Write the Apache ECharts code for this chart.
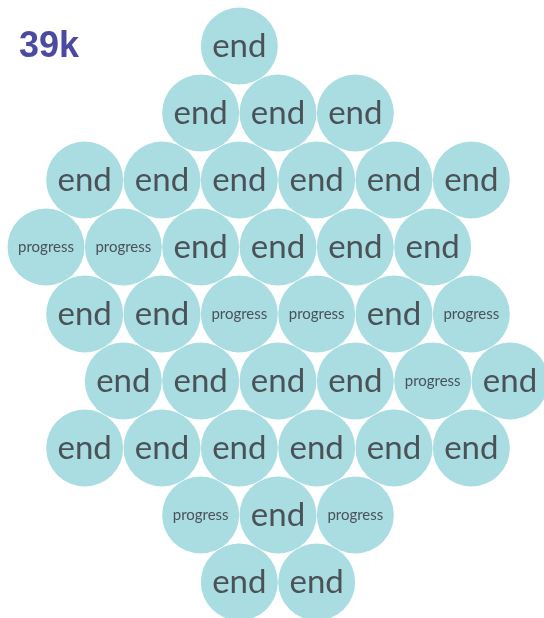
<!DOCTYPE html>
<html>
<head>
<meta charset="utf-8">
<style>
  html, body { margin: 0; padding: 0; background: #fff; }
  #main { width: 544px; height: 618px; }
</style>
<script src="https://cdn.jsdelivr.net/npm/echarts@6/dist/echarts.min.js"></script>
</head>
<body>
<div id="main"></div>
<script>
// hex grid: column index (half steps) and row index for each cell
var cols = [5, 4, 6, 8, 1, 3, 5, 7, 9, 11, 0, 2, 4, 6, 8, 10, 1, 3, 5, 7, 9, 11,
  2, 4, 6, 8, 10, 12, 1, 3, 5, 7, 9, 11, 4, 6, 8, 5, 7]
var rows = [0, 1, 1, 1, 2, 2, 2, 2, 2, 2, 3, 3, 3, 3, 3, 3, 4, 4, 4, 4, 4, 4,
  5, 5, 5, 5, 5, 5, 6, 6, 6, 6, 6, 6, 7, 7, 7, 8, 8]
var states = ['end', 'end', 'end', 'end', 'end', 'end', 'end', 'end', 'end', 'end',
  'progress', 'progress', 'end', 'end', 'end', 'end',
  'end', 'end', 'progress', 'progress', 'end', 'progress',
  'end', 'end', 'end', 'end', 'progress', 'end',
  'end', 'end', 'end', 'end', 'end', 'end',
  'progress', 'end', 'progress', 'end', 'end']
var total = '39k'

var data = []
for (var i = 0; i < cols.length; i++) {
  data.push({
    value: [cols[i], rows[i]],
    name: states[i],
    label: {
      fontSize: states[i] === 'end' ? 33 : 15
    }
  })
}

var chart = echarts.init(document.getElementById('main'))
chart.setOption({
  title: {
    text: total,
    left: 19,
    top: 29,
    padding: 0,
    textStyle: {
      color: '#4a4aa2',
      fontSize: 36,
      fontWeight: 'bold',
      fontFamily: 'Liberation Sans'
    }
  },
  grid: {
    left: 46,
    right: 34,
    top: 46,
    bottom: 36
  },
  xAxis: {
    type: 'value',
    min: 0,
    max: 12,
    show: false
  },
  yAxis: {
    type: 'value',
    min: 0,
    max: 8,
    inverse: true,
    show: false
  },
  series: [{
    type: 'scatter',
    symbol: 'circle',
    symbolSize: 77,
    itemStyle: {
      color: '#a9dde2',
      opacity: 1
    },
    label: {
      show: true,
      position: 'inside',
      formatter: '{b}',
      color: '#4a5257',
      fontFamily: 'Lato'
    },
    data: data
  }]
})
</script>
</body>
</html>
